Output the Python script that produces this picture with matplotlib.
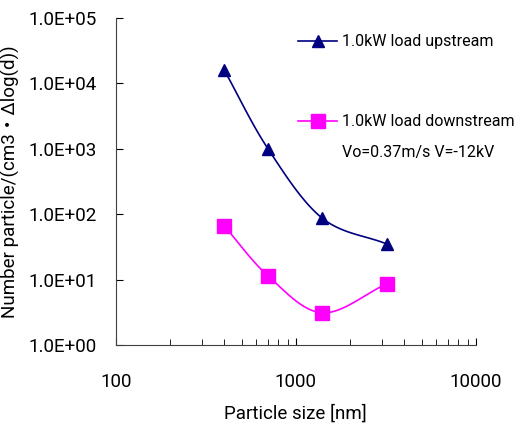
import numpy as np
import matplotlib
matplotlib.use("Agg")
import matplotlib.pyplot as plt
from matplotlib.lines import Line2D
from matplotlib.ticker import FixedLocator, FixedFormatter, LogLocator, NullFormatter

plt.rcParams['font.family'] = ['Roboto', 'Noto Sans CJK JP', 'DejaVu Sans']

sizes = [400, 700, 1400, 3200]
upstream = [16000, 1000, 87, 35]
downstream = [66, 11.4, 3.1, 8.6]
label_up = "1.0kW load upstream"
label_down = "1.0kW load downstream"
note = "Vo=0.37m/s V=-12kV"
yticks = [1e0, 1e1, 1e2, 1e3, 1e4, 1e5]
ytick_labels = ["1.0E+00", "1.0E+01", "1.0E+02", "1.0E+03", "1.0E+04", "1.0E+05"]
xticks = [100, 1000, 10000]
xtick_labels = ["100", "1000", "10000"]

def smooth(x, y, n=30):
    lx = np.log10(np.array(x, float)); ly = np.log10(np.array(y, float))
    P = np.column_stack([lx, ly])
    P = np.vstack([2*P[0]-P[1], P, 2*P[-1]-P[-2]])
    out = []
    for i in range(1, len(P)-2):
        p0, p1, p2, p3 = P[i-1], P[i], P[i+1], P[i+2]
        t = np.linspace(0, 1, n)[:, None]
        seg = 0.5*((2*p1) + (-p0+p2)*t + (2*p0-5*p1+4*p2-p3)*t**2 + (-p0+3*p1-3*p2+p3)*t**3)
        out.append(seg)
    S = np.vstack(out)
    return 10**S[:, 0], 10**S[:, 1]

fig = plt.figure(figsize=(5.15, 4.29), dpi=100)
ax = fig.add_axes([0.225, 0.196, 0.699, 0.762])

c_up = '#000080'
c_dn = '#FF00FF'
sx, sy = smooth(sizes, upstream)
ax.plot(sx, sy, color=c_up, lw=1.2)
ax.plot(sizes, upstream, ls='none', marker='^', ms=9, color=c_up)
sx, sy = smooth(sizes, downstream)
ax.plot(sx, sy, color=c_dn, lw=1.2)
ax.plot(sizes, downstream, ls='none', marker='s', ms=10, color=c_dn)

ax.set_xscale('log'); ax.set_yscale('log')
ax.set_xlim(100, 10000); ax.set_ylim(1, 1e5)
ax.yaxis.set_major_locator(FixedLocator(yticks))
ax.yaxis.set_major_formatter(FixedFormatter(ytick_labels))
ax.yaxis.set_minor_locator(FixedLocator([]))
ax.xaxis.set_major_locator(FixedLocator(xticks))
ax.xaxis.set_major_formatter(FixedFormatter(xtick_labels))
ax.xaxis.set_minor_locator(LogLocator(base=10, subs=np.arange(2, 10)))
ax.xaxis.set_minor_formatter(NullFormatter())
ax.tick_params(axis='both', which='both', direction='in', labelsize=13.5, colors='black')
ax.tick_params(axis='y', which='major', length=5, pad=14)
ax.tick_params(axis='x', which='major', length=5, pad=20)
ax.tick_params(axis='x', which='minor', length=4)
for s in ['top', 'right']:
    ax.spines[s].set_visible(False)
for s in ['left', 'bottom']:
    ax.spines[s].set_color('#404040')

ax.set_xlabel("Particle size [nm]", fontsize=13.5, labelpad=10)
ax.set_ylabel("Number particle/(cm3・Δlog(d))", fontsize=13.5, labelpad=6)

h1 = Line2D([], [], color=c_up, marker='^', ms=9, lw=1.2)
h2 = Line2D([], [], color=c_dn, marker='s', ms=10, lw=1.2)
common = dict(frameon=False, fontsize=11.5, handlelength=2.45, handletextpad=0.3,
              borderpad=0, borderaxespad=0)
leg1 = ax.legend([h1], [label_up], loc='center left', bbox_to_anchor=(0.506, 0.927), **common)
ax.add_artist(leg1)
leg2 = ax.legend([h2], [label_down], loc='center left', bbox_to_anchor=(0.506, 0.682), **common)
ax.text(0.628, 0.590, note, transform=ax.transAxes, fontsize=11.5, va='center', ha='left')
fig.savefig("out.png", dpi=100)
